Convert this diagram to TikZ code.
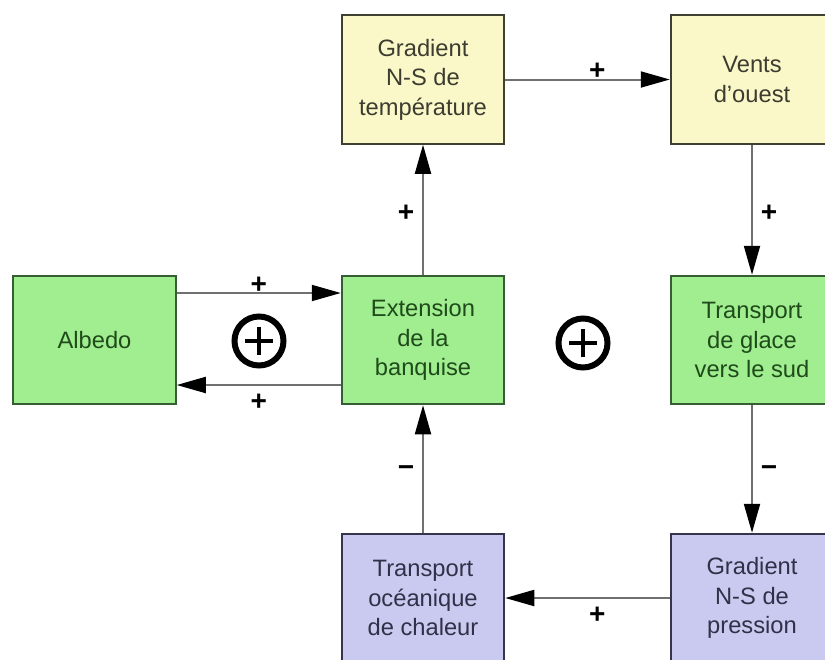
\documentclass[tikz,border=0pt]{standalone}
\usepackage{fontspec}
\setmainfont{Liberation Sans}
\usetikzlibrary{arrows.meta}
\definecolor{ylwfill}{HTML}{FAF8C8}
\definecolor{ylwline}{HTML}{404032}
\definecolor{ylwtext}{HTML}{3C3C30}
\definecolor{grnfill}{HTML}{A0EE90}
\definecolor{grnline}{HTML}{355E35}
\definecolor{grntext}{HTML}{1F4A1A}
\definecolor{lavfill}{HTML}{CACAF0}
\definecolor{lavline}{HTML}{34344A}
\definecolor{lavtext}{HTML}{303048}
\definecolor{flowgrey}{HTML}{707070}
\tikzset{
  box/.style={draw, line width=2pt, minimum width=162.5pt, minimum height=128.5pt,
    inner sep=0pt, align=center, font=\fontsize{23.7}{29.5}\selectfont},
  ylwbox/.style={box, fill=ylwfill, draw=ylwline, text=ylwtext},
  grnbox/.style={box, fill=grnfill, draw=grnline, text=grntext},
  lavbox/.style={box, fill=lavfill, draw=lavline, text=lavtext},
  flow/.style={line width=2pt, draw=flowgrey, -{Triangle[length=29pt,width=16pt,color=black]}},
  signlbl/.style={inner sep=0pt, text=black, font=\fontsize{28}{28}\selectfont\bfseries},
  loopsign/.style={circle, draw=black, line width=6pt, minimum size=49pt, inner sep=0pt,
    path picture={\draw[line width=4.5pt] (path picture bounding box.center) ++(-14pt,0pt) -- ++(28pt,0pt)
      (path picture bounding box.center) ++(0pt,-14pt) -- ++(0pt,28pt);}}
}
\begin{document}
\begin{tikzpicture}[x=1pt,y=-1pt]
	\useasboundingbox (0,0) rectangle (825,659);
	\clip (0,0) rectangle (825,659);
	\node[ylwbox] (gradT) at (423,79.5) {Gradient\\N-S de\\température};
	\node[ylwbox] (vents) at (752,79.5) {Vents\\d’ouest};
	\node[grnbox] (albedo) at (94.5,340) {Albedo};
	\node[grnbox] (banquise) at (423,340) {Extension\\de la\\banquise};
	\node[grnbox] (glace) at (752,340) {Transport\\de glace\\vers le sud};
	\node[lavbox] (ocean) at (423,598) {Transport\\océanique\\de chaleur};
	\node[lavbox] (gradP) at (752,598) {Gradient\\N-S de\\pression};
	\node[loopsign] (loopA) at (259,341) {};
	\node[loopsign] (loopB) at (583,343) {};
	\draw[flow] (gradT.east) -- node[signlbl, pos=0.56, yshift=8pt] {+} (vents.west);
	\draw[flow] (banquise.north) -- node[signlbl, pos=0.47, xshift=-17pt] {+} (gradT.south);
	\draw[flow] (vents.south) -- node[signlbl, pos=0.53, xshift=17pt] {+} (glace.north);
	\draw[flow] ([yshift=47pt]albedo.east) -- node[signlbl, pos=0.5, yshift=8pt] {+} ([yshift=47pt]banquise.west);
	\draw[flow] ([yshift=-45pt]banquise.west) -- node[signlbl, pos=0.5, yshift=-17pt] {+} ([yshift=-45pt]albedo.east);
	\draw[flow] (glace.south) -- node[signlbl, pos=0.52, xshift=17pt] {−} (gradP.north);
	\draw[flow] (gradP.west) -- node[signlbl, pos=0.44, yshift=-17pt] {+} (ocean.east);
	\draw[flow] (ocean.north) -- node[signlbl, pos=0.48, xshift=-17pt] {−} (banquise.south);
\end{tikzpicture}
\end{document}
